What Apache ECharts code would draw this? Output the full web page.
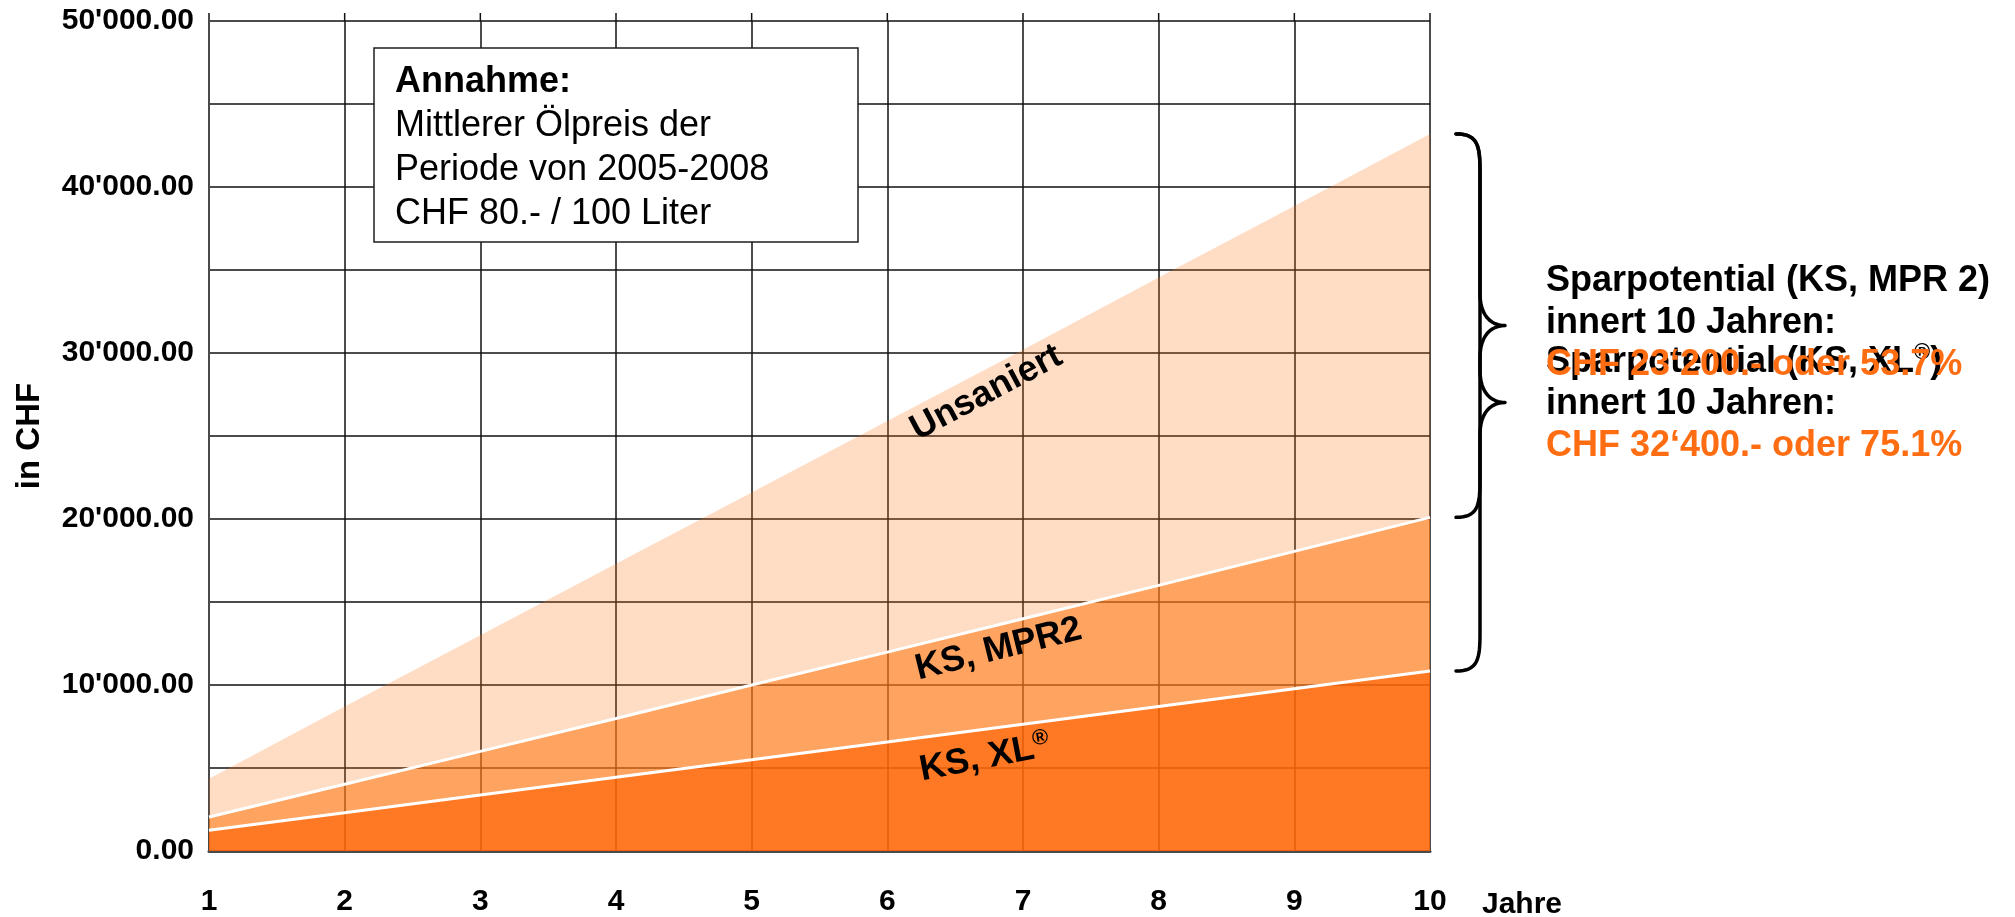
<!DOCTYPE html>
<html>
<head>
<meta charset="utf-8">
<script src="https://cdn.jsdelivr.net/npm/echarts@6/dist/echarts.min.js"></script>
<style>
html,body{margin:0;padding:0;background:#fff;}
#main{width:2015px;height:917px;}
</style>
</head>
<body>
<div id="main"></div>
<script>
// ---- data ----
const years = [1, 2, 3, 4, 5, 6, 7, 8, 9, 10];
const unsaniert = [4350, 8700, 13000, 17300, 21600, 25900, 30200, 34550, 38850, 43200];
const ksMpr2 = [2050, 4020, 6000, 7980, 10000, 11980, 13990, 16000, 18050, 20100];
const ksXl = [1250, 2310, 3380, 4440, 5500, 6570, 7640, 8710, 9780, 10840];
const seriesNames = ['Unsaniert', 'KS, MPR2', 'KS, XL'];
const xAxisName = 'Jahre';
const yAxisName = 'in CHF';
const noteLines = ['Annahme:', 'Mittlerer Ölpreis der', 'Periode von 2005-2008', 'CHF 80.- / 100 Liter'];
const savingMpr2 = ['Sparpotential (KS, MPR 2)', 'innert 10 Jahren:', 'CHF 23‘200.- oder 53.7%'];
const savingXl = ['Sparpotential (KS, XL', 'innert 10 Jahren:', 'CHF 32‘400.- oder 75.1%'];

const FONT = '"Liberation Sans", Arial, sans-serif';
const ORANGE_TXT = '#FF6D12';
const GRID_COLOR = '#111111';

function fmt(v) {
  const s = Math.round(v).toString().replace(/\B(?=(\d{3})+(?!\d))/g, "'");
  return s + '.00';
}
function pairs(arr) { return years.map((x, i) => [x, arr[i]]); }

const chart = echarts.init(document.getElementById('main'), null, {renderer: 'canvas'});

const option = {
  animation: false,
  backgroundColor: '#fff',
  grid: {left: 209, top: 21, width: 1221, height: 830, outerBoundsMode: 'none', containLabel: false},
  xAxis: {
    type: 'value', min: 1, max: 10, interval: 1,
    axisLine: {show: true, lineStyle: {color: '#4a4a4a', width: 3}},
    axisTick: {show: false},
    axisLabel: {fontFamily: FONT, fontSize: 30, fontWeight: 'bold', color: '#000', margin: 36},
    splitLine: {show: true, lineStyle: {color: GRID_COLOR, width: 1.5}}
  },
  yAxis: {
    type: 'value', min: 0, max: 50000, interval: 5000,
    name: yAxisName, nameLocation: 'middle', nameGap: 163, nameRotate: 90,
    nameTextStyle: {fontFamily: FONT, fontSize: 33, fontWeight: 'bold', color: '#000'},
    axisLine: {show: true, lineStyle: {color: '#4a4a4a', width: 2}},
    axisTick: {show: false},
    axisLabel: {
      fontFamily: FONT, fontSize: 30, fontWeight: 'bold', color: '#000', margin: 15,
      formatter: v => (v % 10000 === 0 ? fmt(v) : '')
    },
    splitLine: {show: true, lineStyle: {color: GRID_COLOR, width: 1.5}}
  },
  series: [
    {
      name: seriesNames[0], type: 'line', data: pairs(unsaniert), symbol: 'none', z: 2,
      lineStyle: {width: 0, opacity: 0},
      areaStyle: {color: 'rgba(255,120,25,0.25)', opacity: 1}
    },
    {
      name: seriesNames[1], type: 'line', data: pairs(ksMpr2), symbol: 'none', z: 3,
      lineStyle: {width: 3, color: '#ffffff'},
      areaStyle: {color: 'rgba(255,120,25,0.575)', opacity: 1}
    },
    {
      name: seriesNames[2], type: 'line', data: pairs(ksXl), symbol: 'none', z: 4,
      lineStyle: {width: 3, color: '#ffffff'},
      areaStyle: {color: 'rgba(255,95,0,0.63)', opacity: 1}
    }
  ]
};
chart.setOption(option);

// ---- annotations ----
const px = (x, y) => chart.convertToPixel({gridIndex: 0}, [x, y]);
const last = years.length - 1;
const yU = px(10, unsaniert[last])[1];
const yM = px(10, ksMpr2[last])[1];
const yX = px(10, ksXl[last])[1];

function cubic(p0, p1, p2, p3, n) {
  const out = [];
  for (let i = 0; i <= n; i++) {
    const t = i / n, u = 1 - t;
    out.push([
      u*u*u*p0[0] + 3*u*u*t*p1[0] + 3*u*t*t*p2[0] + t*t*t*p3[0],
      u*u*u*p0[1] + 3*u*u*t*p1[1] + 3*u*t*t*p2[1] + t*t*t*p3[1]
    ]);
  }
  return out;
}
function bracePoints(y0, y1, ym) {
  const xl = 1456, xs = 1480, xt = 1505;
  let pts = [];
  pts = pts.concat(cubic([xl, y0], [xs - 2, y0], [xs, y0 + 12], [xs, y0 + 38], 16));
  pts.push([xs, ym - 32]);
  pts = pts.concat(cubic([xs, ym - 32], [xs, ym - 10], [xt - 14, ym], [xt, ym], 12));
  pts = pts.concat(cubic([xt, ym], [xt - 14, ym], [xs, ym + 10], [xs, ym + 32], 12));
  pts.push([xs, y1 - 38]);
  pts = pts.concat(cubic([xs, y1 - 38], [xs, y1 - 12], [xs - 2, y1], [xl, y1], 16));
  return pts;
}

const graphics = [];
// short stubs of the vertical grid lines above the top grid line
years.forEach((x) => {
  const p = px(x, 50000);
  graphics.push({type: 'line', z: 1, shape: {x1: p[0], y1: p[1] - 8, x2: p[0], y2: p[1]},
    style: {stroke: x === 1 ? '#4a4a4a' : GRID_COLOR, lineWidth: x === 1 ? 2 : 1.5}});
});
// note box
graphics.push({type: 'rect', z: 50, shape: {x: 374, y: 48, width: 484, height: 194},
  style: {fill: '#fff', stroke: '#1e1e1e', lineWidth: 1.5}});
noteLines.forEach((t, i) => {
  graphics.push({type: 'text', z: 51, x: 395, y: 82 + i * 44,
    style: {text: t, fontFamily: FONT, fontSize: 36, fontWeight: i === 0 ? 'bold' : 'normal',
      fill: '#000', align: 'left', verticalAlign: 'middle'}});
});

// series labels along the areas
function seriesLabel(xv, yv, rotDeg, text, sup) {
  const p = px(xv, yv);
  graphics.push({type: 'text', z: 60, x: p[0], y: p[1], rotation: rotDeg * Math.PI / 180,
    style: {
      text: sup ? '{m|' + text + '}{s|®}' : text,
      fontFamily: FONT, fontSize: 36, fontWeight: 'bold', fill: '#000',
      align: 'center', verticalAlign: 'middle',
      rich: {m: {fontFamily: FONT, fontSize: 36, fontWeight: 'bold', fill: '#000', lineHeight: 40},
             s: {fontFamily: FONT, fontSize: 22, fontWeight: 'bold', fill: '#000', lineHeight: 22, verticalAlign: 'top'}}
    }});
}
seriesLabel(6.73, 27600, 28, seriesNames[0], false);
seriesLabel(6.82, 12150, 14, seriesNames[1], false);
seriesLabel(6.72, 5600, 11, seriesNames[2], true);

// x-axis name placed in line with the tick labels
const pEnd = px(10, 0);
graphics.push({type: 'text', z: 60, x: pEnd[0] + 52, y: pEnd[1] + 54,
  style: {text: xAxisName, fontFamily: FONT, fontSize: 30, fontWeight: 'bold', fill: '#000', align: 'left', verticalAlign: 'middle'}});

// braces
graphics.push({type: 'polyline', z: 40, shape: {points: bracePoints(yU, yM, (yU + yM) / 2)},
  style: {fill: null, stroke: '#000', lineWidth: 3.5, lineJoin: 'round', lineCap: 'round'}});
graphics.push({type: 'polyline', z: 40, shape: {points: bracePoints(yU, yX, (yU + yX) / 2)},
  style: {fill: null, stroke: '#000', lineWidth: 3.5, lineJoin: 'round', lineCap: 'round'}});

// saving texts
const richR = {
  n: {fontFamily: FONT, fontSize: 36, fontWeight: 'bold', fill: '#000', lineHeight: 40},
  s: {fontFamily: FONT, fontSize: 22, fontWeight: 'bold', fill: '#000', lineHeight: 22, verticalAlign: 'top'}
};
function rightText(t, y, color, z, withSup) {
  const st = {text: withSup ? '{n|' + t + '}{s|®}{n|)}' : t,
    fontFamily: FONT, fontSize: 36, fontWeight: 'bold', fill: color, align: 'left', verticalAlign: 'middle'};
  if (withSup) st.rich = richR;
  graphics.push({type: 'text', z: z, x: 1546, y: y, style: st});
}
rightText(savingMpr2[0], 281, '#000', 70, false);
rightText(savingMpr2[1], 323, '#000', 70, false);
rightText(savingXl[0], 362, '#000', 70, true);
rightText(savingXl[1], 404, '#000', 70, false);
rightText(savingMpr2[2], 365, ORANGE_TXT, 72, false);
rightText(savingXl[2], 446, ORANGE_TXT, 72, false);

chart.setOption({graphic: {elements: graphics}});
</script>
</body>
</html>
